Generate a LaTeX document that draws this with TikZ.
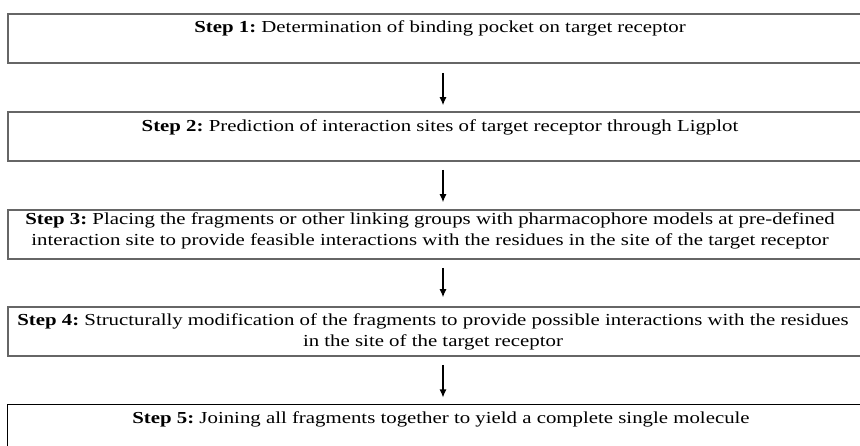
\documentclass[tikz,border=0pt]{standalone}
\usepackage{fontspec}
\setmainfont{Liberation Serif}[FakeStretch=1.24]
\usetikzlibrary{arrows.meta}
\tikzset{
  stepbox/.style={draw=gray!80!black, line width=1.6bp, rectangle, inner sep=0pt,
    minimum width=864bp, minimum height=49bp},
  lastbox/.style={stepbox, draw=black, line width=1bp},
  txt/.style={inner sep=0pt, align=center, font=\fontsize{16.8bp}{21bp}\selectfont\frenchspacing, text=black},
  flow/.style={-{Latex[length=8bp,width=7bp]}, line width=1.2bp, black}
}
\begin{document}
\begin{tikzpicture}[x=1bp,y=-1bp]
\useasboundingbox (0,0) rectangle (860,446);
\node[stepbox] (b1) at (440,38.5) {};
\node[stepbox] (b2) at (440,136.5) {};
\node[stepbox] (b3) at (440,234.5) {};
\node[stepbox] (b4) at (440,331.5) {};
\node[lastbox] (b5) at (440,429.5) {};
\node[txt] (t1) at (440,28) {\textbf{Step 1:} Determination of binding pocket on target receptor};
\node[txt] (t2) at (440,127) {\textbf{Step 2:} Prediction of interaction sites of target receptor through Ligplot};
\node[txt] (t3) at (430,230.5) {\textbf{Step 3:} Placing the fragments or other linking groups with pharmacophore models at pre-defined\\interaction site to provide feasible interactions with the residues in the site of the target receptor};
\node[txt] (t4) at (433,331.5) {\textbf{Step 4:} Structurally modification of the fragments to provide possible interactions with the residues\\in the site of the target receptor};
\node[txt] (t5) at (441,419) {\textbf{Step 5:} Joining all fragments together to yield a complete single molecule};
\draw[flow, shorten <=9bp, shorten >=6bp] ([xshift=3bp]b1.south) -- ([xshift=3bp]b2.north);
\draw[flow, shorten <=8bp, shorten >=7bp] ([xshift=3bp]b2.south) -- ([xshift=3bp]b3.north);
\draw[flow, shorten <=8bp, shorten >=9bp] ([xshift=3bp]b3.south) -- ([xshift=3bp]b4.north);
\draw[flow, shorten <=8bp, shorten >=7bp] ([xshift=3bp]b4.south) -- ([xshift=3bp]b5.north);
\end{tikzpicture}
\end{document}
